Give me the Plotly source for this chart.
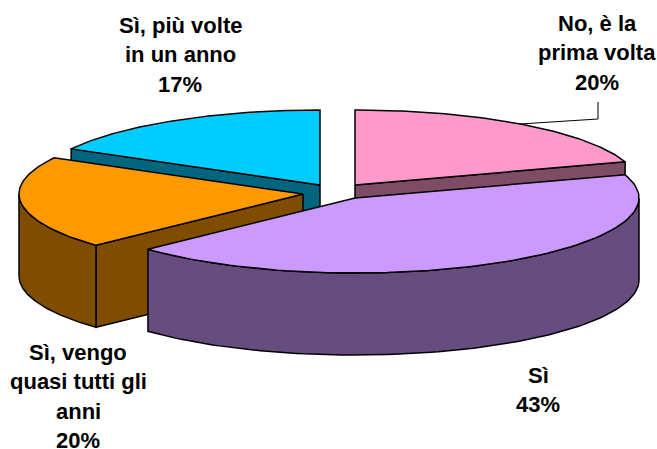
import math
import plotly.graph_objects as go

labels = [["No, è la", "prima volta", "20%"],
          ["Sì", "43%"],
          ["Sì, vengo", "quasi tutti gli", "anni", "20%"],
          ["Sì, più volte", "in un anno", "17%"]]
values = [20, 43, 20, 17]
top_colors = ["#FF99CC", "#CC99FF", "#FF9900", "#00CCFF"]
wall_colors = ["#7F4C66", "#664C7F", "#7F4C00", "#00667F"]
centers = [(355, 185), (355, 198), (303, 194), (320, 185)]
label_pos = [(597, 23), (538, 375), (78, 352), (180, 25)]
leader_x = [520, 598, 598]
leader_y = [124, 119, 102]
RX, RY, DEPTH = 284, 75, 82
LINE_STEP = 29.5
draw_order = [3, 0, 2, 1]
W, H = 657, 449

total = sum(values)
spans = []
acc = 0
for v in values:
    spans.append((acc / total * 360, (acc + v) / total * 360))
    acc += v


def pt(c, deg):
    r = math.radians(deg)
    return c[0] + RX * math.sin(r), c[1] - RY * math.cos(r)


def arc(c, a, b, n=90):
    return [pt(c, a + (b - a) * i / n) for i in range(n + 1)]


fig = go.Figure()


def poly(points, color):
    fig.add_trace(go.Scatter(
        x=[p[0] for p in points] + [points[0][0]],
        y=[p[1] for p in points] + [points[0][1]],
        mode="lines", fill="toself", fillcolor=color,
        line=dict(color="black", width=1.5), hoverinfo="skip", showlegend=False))


def down(points):
    return [(x, y + DEPTH) for x, y in points]


for i in draw_order:
    a, b = spans[i]
    c = centers[i]
    # cut faces that turn towards the viewer
    if math.cos(math.radians(a - 90)) < -1e-6:
        e = [c, pt(c, a)]
        poly(e + down(e)[::-1], wall_colors[i])
    if math.cos(math.radians(b + 90)) < -1e-6:
        e = [c, pt(c, b)]
        poly(e + down(e)[::-1], wall_colors[i])
    # outer wall: front half of the rim only
    lo, hi = max(a, 90), min(b, 270)
    if lo < hi:
        e = arc(c, lo, hi)
        poly(e + down(e)[::-1], wall_colors[i])
    # top face
    poly([c] + arc(c, a, b), top_colors[i])

# leader line of the first label
fig.add_trace(go.Scatter(x=leader_x, y=leader_y, mode="lines",
                         line=dict(color="black", width=1),
                         hoverinfo="skip", showlegend=False))

for lines, (x, y) in zip(labels, label_pos):
    for k, t in enumerate(lines):
        fig.add_annotation(x=x, y=y + k * LINE_STEP, text=f"<b>{t}</b>", showarrow=False,
                           xanchor="center", yanchor="middle",
                           font=dict(family="Liberation Sans", size=22, color="black"))

fig.update_layout(
    width=W, height=H, margin=dict(l=0, r=0, t=0, b=0),
    paper_bgcolor="white", plot_bgcolor="white", showlegend=False,
    xaxis=dict(range=[0, W], visible=False, fixedrange=True),
    yaxis=dict(range=[H, 0], visible=False, fixedrange=True),
)
fig.write_html("out.html", config={"displayModeBar": False},
               post_script="document.body.style.margin='0';document.body.style.overflow='hidden';")
